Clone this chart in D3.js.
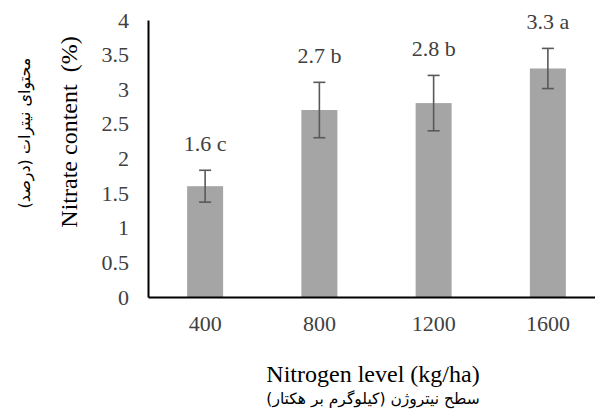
<!DOCTYPE html>
<html>
<head>
<meta charset="utf-8">
<script src="https://cdn.jsdelivr.net/npm/d3@7"></script>
<style>
  html, body { margin: 0; padding: 0; background: #fff; }
  svg { display: block; }
  text { font-family: "Liberation Serif", "Times New Roman", "DejaVu Sans", serif; }
</style>
</head>
<body>
<svg id="chart" width="595" height="416"></svg>
<script>
// Nitrogen level (kg/ha) categories
const levels = ["400", "800", "1200", "1600"];
// Mean nitrate content (%)
const nitrate = [1.6, 2.7, 2.8, 3.3];
// Error bar half-widths (%)
const errors = [0.23, 0.4, 0.4, 0.29];
// Mean-comparison letters
const letters = ["c", "b", "b", "a"];
// Y axis tick values
const yTicks = [0, 0.5, 1, 1.5, 2, 2.5, 3, 3.5, 4];

const svg = d3.select("#chart");
const plotLeft = 148, plotRight = 605, plotTop = 20, plotBottom = 297;

const x = d3.scaleBand()
  .domain(levels)
  .range([plotLeft, plotRight])
  .paddingInner(0.685)
  .paddingOuter(0.3425);

const y = d3.scaleLinear()
  .domain([0, 4])
  .range([plotBottom, plotTop]);

// Bars
svg.append("g").selectAll("rect")
  .data(levels)
  .join("rect")
  .attr("x", d => x(d))
  .attr("y", (d, i) => y(nitrate[i]))
  .attr("width", x.bandwidth())
  .attr("height", (d, i) => y(0) - y(nitrate[i]))
  .attr("fill", "#a5a5a5");

// Error bars
const eb = svg.append("g").attr("stroke", "#595959").attr("stroke-width", 1.6);
levels.forEach((d, i) => {
  const cx = x(d) + x.bandwidth() / 2;
  const hi = y(nitrate[i] + errors[i]);
  const lo = y(nitrate[i] - errors[i]);
  eb.append("line").attr("x1", cx).attr("x2", cx).attr("y1", hi).attr("y2", lo);
  eb.append("line").attr("x1", cx - 6).attr("x2", cx + 6).attr("y1", hi).attr("y2", hi);
  eb.append("line").attr("x1", cx - 6).attr("x2", cx + 6).attr("y1", lo).attr("y2", lo);
});

// Value labels with letters
svg.append("g").selectAll("text")
  .data(levels)
  .join("text")
  .attr("x", d => x(d) + x.bandwidth() / 2)
  .attr("y", (d, i) => y(nitrate[i] + errors[i]) - 19)
  .attr("text-anchor", "middle")
  .attr("font-size", 22)
  .attr("fill", "#404040")
  .text((d, i) => `${nitrate[i]} ${letters[i]}`);

// Y axis
const yAxis = svg.append("g")
  .attr("transform", `translate(${plotLeft},0)`)
  .call(d3.axisLeft(y).tickValues(yTicks).tickSize(0).tickPadding(19).tickFormat(d3.format("")));
yAxis.select(".domain").attr("stroke", "#000").attr("stroke-width", 2);
yAxis.selectAll("text").attr("font-size", 22).attr("fill", "#404040")
  .style("font-family", "'Liberation Serif', serif");

// X axis
const xAxis = svg.append("g")
  .attr("transform", `translate(0,${plotBottom})`)
  .call(d3.axisBottom(x).tickSize(0).tickPadding(18));
xAxis.select(".domain").attr("stroke", "#000").attr("stroke-width", 2);
xAxis.selectAll("text").attr("font-size", 22).attr("fill", "#404040")
  .style("font-family", "'Liberation Serif', serif");

// X axis titles
svg.append("text")
  .attr("x", 373).attr("y", 382)
  .attr("text-anchor", "middle")
  .attr("font-size", 24)
  .attr("fill", "#000")
  .text("Nitrogen level (kg/ha)");
svg.append("text")
  .attr("x", 373).attr("y", 404)
  .attr("text-anchor", "middle")
  .attr("direction", "rtl")
  .attr("font-size", 15.5)
  .attr("fill", "#000")
  .style("font-family", "'DejaVu Sans', sans-serif")
  .text("سطح نیتروژن (کیلوگرم بر هکتار)");

// Y axis titles
svg.append("text")
  .attr("transform", "translate(77,132) rotate(-90)")
  .attr("text-anchor", "middle")
  .attr("font-size", 24)
  .attr("fill", "#000")
  .style("white-space", "pre")
  .text("Nitrate content  (%)");
svg.append("text")
  .attr("transform", "translate(30,133) rotate(-90)")
  .attr("text-anchor", "middle")
  .attr("direction", "rtl")
  .attr("font-size", 16)
  .attr("fill", "#000")
  .style("font-family", "'DejaVu Sans', sans-serif")
  .text("محتوای نیترات (درصد)");
</script>
</body>
</html>
